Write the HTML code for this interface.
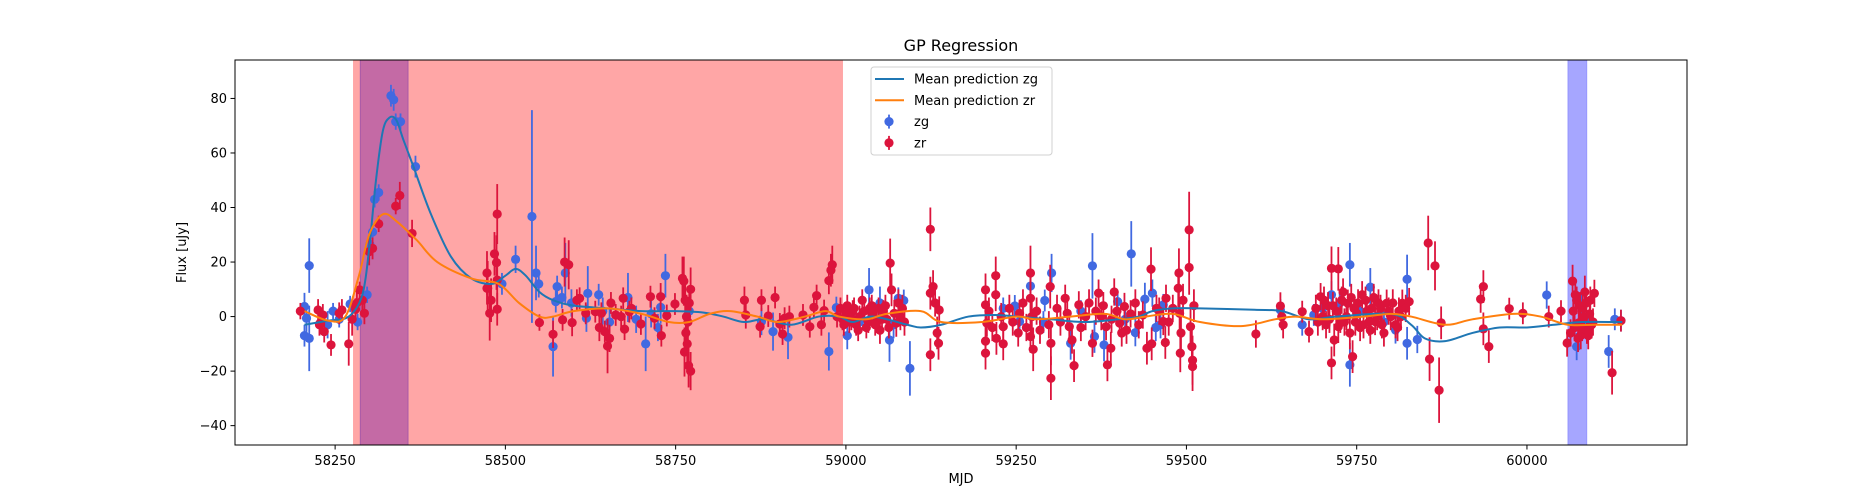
<!DOCTYPE html>
<html><head><meta charset="utf-8"><style>
html,body{margin:0;padding:0;background:#fff;}
svg{display:block;font-family:"DejaVu Sans","Liberation Sans",sans-serif;}
</style></head><body>
<svg id="chart" width="1875" height="500" viewBox="0 0 1875 500"></svg>
<script>
// ---- data ----
const xTicks = [58250,58500,58750,59000,59250,59500,59750,60000];
const yTicks = [-40,-20,0,20,40,60,80];
const redSpan = [58277, 58995];
const purpleSpan = [58287, 58357];
const blueSpan = [60060, 60088];
// GP mean prediction knots [mjd, flux]
const zgMean = [[58205,-3],[58240,-1.5],[58270,0],[58290,8],[58300,25],[58310,50],[58320,68],[58330,73],[58340,72],[58350,65],[58365,55],[58390,38],[58420,22],[58450,14],[58480,12],[58500,15],[58515,17.5],[58530,15],[58550,9],[58570,6],[58600,4],[58650,3],[58700,2],[58750,2],[58790,1.5],[58820,0],[58850,-2],[58880,-1],[58920,-3],[58960,0],[58990,0],[59010,-2],[59040,0],[59090,-3],[59110,-4],[59140,-3],[59180,0],[59220,0.6],[59250,0],[59300,-1],[59350,-2],[59400,-1],[59430,0],[59450,2],[59480,3],[59520,3],[59600,2.5],[59640,2],[59680,-1],[59720,0],[59800,1],[59830,-3],[59850,-8],[59880,-9],[59920,-6],[59960,-4],[60000,-4],[60040,-3],[60080,-2],[60140,-2]];
const zrMean = [[58205,2],[58240,-1.5],[58265,0],[58285,15],[58300,30],[58320,37.5],[58340,35],[58370,28],[58400,20],[58450,14],[58490,12],[58520,5],[58550,0],[58570,0],[58600,2],[58650,3],[58700,1],[58740,-2],[58770,-2],[58800,1],[58830,2],[58870,0],[58900,-2],[58940,0],[58970,2],[58990,0],[59030,-1],[59060,1],[59110,2],[59140,-2],[59200,-2],[59250,0],[59280,-1],[59330,0],[59380,1],[59410,-1],[59440,0],[59480,1],[59520,-2],[59580,-3.5],[59630,-1],[59660,0],[59700,-1],[59760,0],[59800,1],[59830,0],[59880,-3],[59920,-1],[59980,1],[60020,0],[60060,-3],[60100,-3],[60140,-3]];
// observations [mjd, flux, err]
const zgPoints = [[58205,3.7,5],[58212,18.7,10],[58208,-0.6,5],[58205,-7,4],[58212,-8,12],[58239,-3,5],[58247,2,3],[58256,-1,3],[58272,4.6,3],[58283,-2,3],[58297,8,3],[58301,26.5,3],[58305,31,3],[58308,43,3],[58314,45.5,3],[58332,81,4],[58336,79.5,4],[58339,71.5,3],[58346,71.5,3],[58368,55,4],[58495,12,4],[58515,21,5],[58539,36.7,39],[58545,16,10],[58549,12,5],[58570,-11,11],[58576,11,4],[58574,5.5,4],[58583,7,4],[58588,16,11],[58597,5,5],[58619,-0.6,5],[58621,8.5,10],[58637,8,4],[58643,2,5],[58653,-2,6],[58680,7,9],[58692,-1,5],[58706,-10,10],[58714,1,5],[58728,3.4,6],[58724,-4,5],[58735,15,8],[58770,2,5],[58876,-1.8,5],[58893,-5.5,7],[58915,-7.6,8],[58975,-12.8,7],[58986,3.3,4],[59002,-7,5],[59034,9.8,8],[59050,5,6],[59064,-8.6,8],[59077,6.7,4],[59085,5.9,4],[59094,-19,10],[59231,3,4],[59248,3.9,4],[59255,-1.8,4],[59271,11.2,6],[59292,5.9,4],[59302,16,7],[59330,-9.8,6],[59362,18.6,12],[59365,-7.3,6],[59379,-10.4,6],[59399,5.5,4],[59419,23,12],[59425,-5.9,5],[59439,6.4,6],[59450,8.6,5],[59462,-3,5],[59466,4.3,4],[59638,2.4,4],[59670,-3,4],[59687,0.6,4],[59713,8,5],[59740,19,8],[59740,-17.7,8],[59770,10.8,7],[59807,-4.9,5],[59824,13.7,9],[59824,-9.8,6],[59839,-8.4,5],[60029,7.9,5],[60073,-11,5],[60120,-12.8,6],[60129,-1,4],[60138,-1.5,4],[59020,-2,4],[59040,1,4],[59070,-3,5],[59290,-2,4],[59345,2,4],[59410,-1,4],[59455,-4,5],[59700,3,4],[59725,5,5],[59755,2,4],[59790,-2,4],[60080,4,5],[60090,-3,5]];
const zrPoints = [[58199,2,3],[58225,2.4,4],[58228,-2.4,4],[58232,0.6,4],[58227,-3,4],[58234,-5.5,4],[58244,-10.4,4],[58256,1.2,4],[58260,2.4,4],[58270,-10,8],[58275,-1,6],[58280,2.7,4],[58282,5,4],[58286,9.8,3],[58290,6,4],[58293,1.2,4],[58300,23.8,5],[58305,25,4],[58314,34,3],[58339,40.5,3],[58345,44.4,5],[58363,30.5,5],[58473,16,8],[58474,10.4,10],[58477,1.2,10],[58479,6,8],[58484,23,8],[58487,19.8,10],[58488,37.6,11],[58488,13.4,10],[58488,2.7,6],[58473,10.4,6],[58550,-2.2,3],[58570,-6.5,5],[58584,-1.2,4],[58587,20,9],[58593,19,9],[58598,-2.2,5],[58605,6,4],[58609,6.7,4],[58618,1.2,4],[58632,1.8,4],[58638,-4,5],[58641,1.2,4],[58646,-5.5,4],[58650,-10.8,10],[58653,-8,5],[58655,5,4],[58662,0.6,4],[58670,0,4],[58673,6.7,4],[58675,-4.6,4],[58682,1.8,4],[58685,3,4],[58699,-2.7,4],[58713,7.3,4],[58719,-0.6,4],[58728,7.3,5],[58729,-7,4],[58737,0.4,4],[58749,4.6,4],[58760,14,8],[58762,13,9],[58764,6,8],[58766,0,8],[58768,-2,7],[58765,-6,7],[58767,-10,9],[58763,-13,9],[58769,-18,8],[58772,-20,7],[58770,5,6],[58772,10,8],[58851,6,5],[58853,0.6,5],[58876,6,4],[58874,-3.7,4],[58886,0.2,4],[58896,7,4],[58903,-2.7,4],[58907,-6.4,4],[58910,-0.6,4],[58917,0,4],[58937,0.6,4],[58947,-3.7,4],[58953,3.4,4],[58957,7.7,4],[58964,-3,4],[58968,2.2,4],[58975,13.2,5],[58978,17,6],[58980,19,7],[58987,0,4],[58995,-1,4],[59000,1,4],[59005,-2,4],[59010,2,4],[59015,-3,4],[59020,0,4],[59024,6,4],[59030,-4,4],[59035,3,4],[59040,1.2,4],[59045,-2,4],[59050,-5,5],[59055,2,4],[59060,-1,4],[59065,19.6,9],[59067,9.8,6],[59071,1.2,5],[59074,-2.4,5],[59077,5,5],[59080,0,5],[59124,32,8],[59124,8.6,6],[59128,11,6],[59131,5,5],[59134,-6,6],[59136,-9.8,6],[59124,-14,6],[59137,2.4,5],[59205,9.8,6],[59205,4.3,6],[59207,-2.4,5],[59205,-9,6],[59205,-13.4,6],[59220,15,7],[59220,8,6],[59221,-8,6],[59228,0,5],[59231,-3.7,5],[59231,-10,6],[59253,-6,5],[59255,1.2,5],[59271,16,10],[59271,6.7,8],[59273,0,6],[59271,-7.3,6],[59275,-12,8],[59298,-3,5],[59300,11,8],[59301,-9.8,8],[59301,-22.6,8],[59322,6.7,5],[59325,1.2,5],[59328,-3.7,5],[59332,-8.6,5],[59335,-18,6],[59342,4.3,5],[59352,0,5],[59362,-9.8,5],[59371,8.6,5],[59375,0,5],[59382,-3.7,5],[59384,-17.7,6],[59389,-11.6,6],[59394,9,5],[59402,-2.4,5],[59409,3.7,5],[59412,-5,5],[59436,0.6,5],[59442,-11.6,6],[59448,17.4,8],[59449,-10,6],[59456,3,5],[59466,-1.8,5],[59469,-9.5,6],[59470,6.7,5],[59488,10.4,7],[59489,16,9],[59490,1.2,6],[59492,-6,7],[59491,-13.4,7],[59504,31.8,14],[59504,18,10],[59506,-3.7,8],[59508,-11,8],[59509,-16,9],[59509,-18.3,9],[59511,4,6],[59602,-6.4,5],[59638,3.9,5],[59640,0,5],[59642,-3,5],[59670,1.8,4],[59680,-5.5,4],[59697,7.3,5],[59700,0,5],[59705,-3,5],[59708,4,5],[59713,17.7,8],[59723,17.5,8],[59713,-17,6],[59717,-8.6,6],[59720,2,5],[59723,-3.7,6],[59728,6,5],[59732,-2,5],[59737,4.9,5],[59740,-6,6],[59744,-14.7,6],[59746,3,5],[59750,1.2,5],[59755,-4,5],[59758,8,5],[59763,6,5],[59768,-2,5],[59772,3,5],[59777,-1.8,5],[59782,5,5],[59787,-3,5],[59794,4.9,5],[59800,0,5],[59807,-3,5],[59812,2,5],[59817,4.9,5],[59827,5.5,5],[59855,27,10],[59865,18.6,9],[59871,-27,12],[59857,-15.6,8],[59874,-2.3,6],[59932,6.4,5],[59936,11,6],[59936,-4.5,6],[59944,-11,6],[59974,2.9,4],[59994,1.2,4],[60032,0,4],[60050,2,4],[60059,-9.7,5],[60067,13,6],[60070,-4,5],[60073,6,5],[60076,-2.3,5],[60079,-7,5],[60082,3,5],[60085,9,6],[60088,-5,5],[60092,1,5],[60095,-3,5],[60099,8.5,5],[60125,-20.6,8],[60138,-1.5,4],
[58992,3,4],[58997,-3,4],[59002,4,4],[59008,-1,4],[59012,3,4],[59018,-5,4],[59027,2,4],[59033,-2,4],[59038,4,4],[59043,-3,4],[59048,3,4],[59053,-1,4],[59058,4,4],[59063,-4,4],[59083,3,5],[59086,-2,5],[59210,2,5],[59215,-4,5],[59240,3,5],[59245,-2,5],[59260,5,5],[59265,-4,5],[59280,2,5],[59285,-5,5],[59310,3,5],[59315,-2,5],[59345,-4,5],[59357,5,5],[59367,2,5],[59378,4,5],[59390,-1,5],[59398,2,5],[59405,-6,5],[59418,1,5],[59425,5,5],[59430,-3,5],[59460,2,5],[59474,-2,5],[59480,3,5],[59495,6,6],[59690,3,5],[59693,-2,5],[59702,6,5],[59710,-1,5],[59715,4,5],[59726,-1,5],[59730,9,5],[59735,0,5],[59742,7,5],[59748,-2,5],[59752,5,5],[59760,-3,5],[59765,2,5],[59770,-5,5],[59775,7,5],[59780,0,5],[59785,3,5],[59790,-6,5],[59797,2,5],[59803,5,5],[59810,-4,5],[59815,0,5],[59822,3,5],[60064,-6,5],[60068,2,5],[60071,8,5],[60075,-8,5],[60078,4,5],[60081,-4,5],[60084,0,5],[60087,5,5],[60090,-7,5],[60093,6,5],[60097,-2,5]];

// ---- axes ----
const L=235,R=1687,T=60,B=445;
const xMin=58103,xMax=60235,yMin=-47.1,yMax=94.1;
const X=v=>L+(v-xMin)/(xMax-xMin)*(R-L);
const Y=v=>B-(v-yMin)/(yMax-yMin)*(B-T);
const NS='http://www.w3.org/2000/svg';
const svg=document.getElementById('chart');
function mk(tag,attrs,parent){const e=document.createElementNS(NS,tag);for(const k in attrs)e.setAttribute(k,attrs[k]);(parent||svg).appendChild(e);return e;}

const clip=mk('clipPath',{id:'plotclip'});mk('rect',{x:L,y:T,width:R-L,height:B-T},clip);
const plot=mk('g',{'clip-path':'url(#plotclip)'});



// spans
let s=mk('rect',{x:X(redSpan[0]),y:T,width:X(redSpan[1])-X(redSpan[0]),height:B-T,fill:'#ff0000','fill-opacity':0.35,stroke:'#ff0000','stroke-opacity':0.2},plot);


s=mk('rect',{x:X(purpleSpan[0]),y:T,width:X(purpleSpan[1])-X(purpleSpan[0]),height:B-T,fill:'#c46aa5',stroke:'#a85aa8'},plot);


s=mk('rect',{x:X(blueSpan[0]),y:T,width:X(blueSpan[1])-X(blueSpan[0]),height:B-T,fill:'#0000ff','fill-opacity':0.35,stroke:'#0000ff','stroke-opacity':0.2},plot);



// points
function drawPoints(pts,color,name){
  const g=mk('g',{},plot);
  
  
  pts.forEach(p=>{mk('line',{x1:X(p[0]),x2:X(p[0]),y1:Y(p[1]-p[2]),y2:Y(p[1]+p[2]),stroke:color,'stroke-width':1.8},g);});
  pts.forEach(p=>{const c=mk('circle',{cx:X(p[0]),cy:Y(p[1]),r:4.6,fill:color},g);
    
    });
}
drawPoints(zgPoints,'#4169e1','zg');
drawPoints(zrPoints,'#dc143c','zr');

// smooth curves
function curve(pts){
  const P=pts.map(p=>[X(p[0]),Y(p[1])]);
  let d='M'+P[0][0]+','+P[0][1];
  for(let i=0;i<P.length-1;i++){
    const p0=P[Math.max(0,i-1)],p1=P[i],p2=P[i+1],p3=P[Math.min(P.length-1,i+2)];
    const c1=[p1[0]+(p2[0]-p0[0])/6,p1[1]+(p2[1]-p0[1])/6];
    const c2=[p2[0]-(p3[0]-p1[0])/6,p2[1]-(p3[1]-p1[1])/6];
    d+=' C'+c1+' '+c2+' '+p2;
  }
  return d;
}
let ln=mk('path',{d:curve(zgMean),fill:'none',stroke:'#1f77b4','stroke-width':2},plot);


ln=mk('path',{d:curve(zrMean),fill:'none',stroke:'#ff7f0e','stroke-width':2},plot);



// frame
const fr=mk('rect',{x:L,y:T,width:R-L,height:B-T,fill:'none',stroke:'#000','stroke-width':1});



// ticks
xTicks.forEach(t=>{
  mk('line',{x1:X(t),x2:X(t),y1:B,y2:B+4.5,stroke:'#000'});
  const tx=mk('text',{x:X(t),y:B+20,'text-anchor':'middle','font-size':13});tx.textContent=t;
  
  
});
yTicks.forEach(t=>{
  mk('line',{x1:L-4.5,x2:L,y1:Y(t),y2:Y(t),stroke:'#000'});
  const tx=mk('text',{x:L-8,y:Y(t)+4.5,'text-anchor':'end','font-size':13});tx.textContent=t<0?'\u2212'+(-t):t;
  
  
});
let t=mk('text',{x:(L+R)/2,y:483,'text-anchor':'middle','font-size':13});t.textContent='MJD';


t=mk('text',{x:0,y:0,'text-anchor':'middle','font-size':13,transform:'translate(186,'+((T+B)/2)+') rotate(-90)'});t.textContent='Flux [uJy]';


t=mk('text',{x:(L+R)/2,y:51,'text-anchor':'middle','font-size':16});t.textContent='GP Regression';



// legend
const lg=mk('g',{});


mk('rect',{x:871,y:67,width:181,height:88,rx:3,fill:'#fff','fill-opacity':0.8,stroke:'#d0d0d0'},lg);
const entries=[['line','#1f77b4','Mean prediction zg'],['line','#ff7f0e','Mean prediction zr'],['pt','#4169e1','zg'],['pt','#dc143c','zr']];
entries.forEach((e,i)=>{
  const y=79+i*21.3;
  const g=mk('g',{},lg);
  
  
  if(e[0]==='line')mk('line',{x1:875,x2:904,y1:y,y2:y,stroke:e[1],'stroke-width':2},g);
  else{mk('line',{x1:889,x2:889,y1:y-7,y2:y+7,stroke:e[1],'stroke-width':1.8},g);mk('circle',{cx:889,cy:y,r:4.6,fill:e[1]},g);}
  const tx=mk('text',{x:914,y:y+4.5,'font-size':13},g);tx.textContent=e[2];
});
</script>
</body></html>
